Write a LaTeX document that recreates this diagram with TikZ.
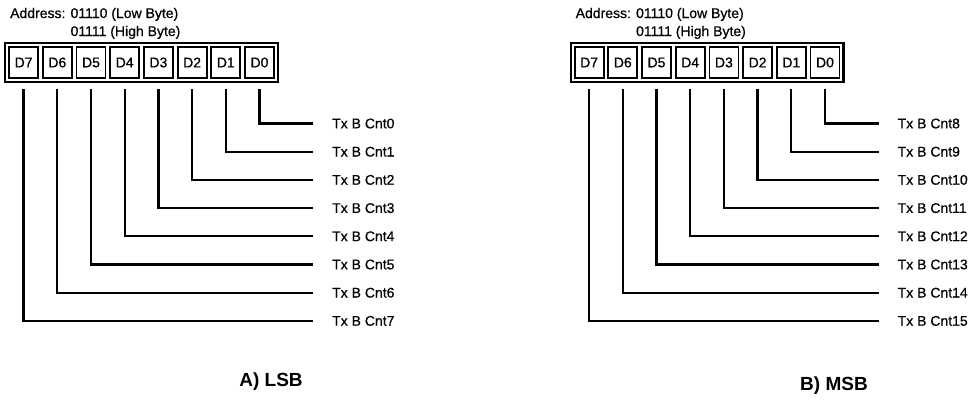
\documentclass[tikz,border=0pt]{standalone}
\usepackage{fontspec}
\setmainfont{Liberation Sans}
\newfontfamily\scanfont{Liberation Sans}[FakeBold=0.6]
\usetikzlibrary{positioning,fit}

\begin{document}
\begin{tikzpicture}[
  x=1pt, y=-1pt,
  cell/.style={draw, line width=1.8pt, minimum width=29pt, minimum height=31pt, inner sep=0pt, font=\scanfont\fontsize{14}{16}\selectfont},
  frame/.style={draw, line width=2.4pt, inner sep=3pt},
  addr/.style={anchor=base west, inner sep=0pt, font=\scanfont\fontsize{14}{16}\selectfont},
  cntlabel/.style={anchor=west, inner sep=0pt, font=\scanfont\fontsize{14}{16}\selectfont},
  wire/.style={line width=2.3pt, shorten <=10pt, shorten >=19pt},
  caption/.style={font=\bfseries\fontsize{19}{22}\selectfont}
]
\useasboundingbox (0,0) rectangle (977,400);
\foreach \p/\dx/\off in {A/0/0, B/565.5/8} {
  \begin{scope}[xshift=\dx]
    \node[addr] (addr\p) at (10,18) {Address: 01110 (Low Byte)};
    \node[addr] (addr\p2) at (10,36) {\phantom{Address: }01111 (High Byte)};
    % register cells D7 ... D0
    \foreach \i in {0,...,7} {
      \node[cell] (\p\i) at ({259.5-33.7*\i},62.5) {D\i};
    }
    \node[frame, fit=(\p7)(\p0)] (reg\p) {};
    % bit wires
    \foreach \i in {0,...,7} {
      \pgfmathtruncatemacro\n{\i+\off}
      \node[cntlabel] (cnt\p\i) at (332,{123.5+28.2*\i}) {Tx B Cnt\n};
      \draw[wire] (\p\i.south) |- (cnt\p\i.west);
    }
  \end{scope}
}
\node[caption] (capA) at (271,382) {A) LSB};
\node[caption] (capB) at (834,386) {B) MSB};
\end{tikzpicture}
\end{document}
